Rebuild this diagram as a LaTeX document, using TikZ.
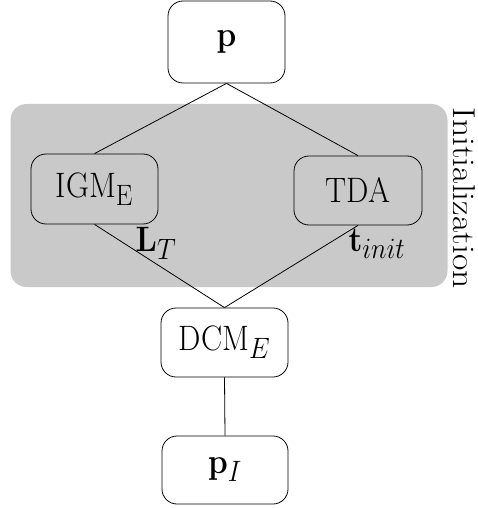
\documentclass[tikz,border=0pt]{standalone}
\usepackage{graphicx}
\usetikzlibrary{positioning}
\newcommand{\stretchtxt}[1]{\scalebox{1.27}[1.42]{\Huge #1}}
\newcommand{\stretchvert}[1]{\scalebox{1.43}[1.27]{\Huge #1}}
\begin{document}
\begin{tikzpicture}[x=1pt,y=-1pt,
  box/.style={draw, line width=0.8pt, rounded corners=15pt, inner sep=0pt},
  lbl/.style={inner sep=0pt},
  conn/.style={line width=0.8pt}]
\useasboundingbox (0,0) rectangle (478,508);
\node[fill=black!21, rounded corners=16pt, minimum width=437pt, minimum height=183pt, inner sep=0pt] (init) at (229,195.5) {};
\node[lbl, rotate=-90] (initlbl) at (464,198) {\stretchvert{Initialization}};
\node[box, fill=white, minimum width=117pt, minimum height=82pt] (p) at (226.5,42) {\stretchtxt{$\mathbf{p}$}};
\node[box, minimum width=127pt, minimum height=70pt] (igm) at (94.5,189) {\stretchtxt{IGM$_{\mathrm{E}}$}};
\node[box, minimum width=128pt, minimum height=69pt] (tda) at (358,190.5) {\stretchtxt{TDA}};
\node[box, fill=white, minimum width=127pt, minimum height=69pt] (dcm) at (224.5,342.5) {\stretchtxt{DCM$_{E}$}};
\node[box, fill=white, minimum width=126pt, minimum height=68pt] (pi) at (225,470) {\stretchtxt{$\mathbf{p}_{I}$}};
\draw[conn] (p.south) -- (igm.north);
\draw[conn] (p.south) -- (tda.north);
\draw[conn] (igm.south) -- (dcm.north);
\draw[conn] (tda.south) -- (dcm.north);
\draw[conn] (dcm.south) -- (pi.north);
\node[lbl] (lt) at (156,243) {\stretchtxt{$\mathbf{L}_{T}$}};
\node[lbl] (tinit) at (377,244) {\stretchtxt{$\mathbf{t}_{init}$}};
\end{tikzpicture}
\end{document}
